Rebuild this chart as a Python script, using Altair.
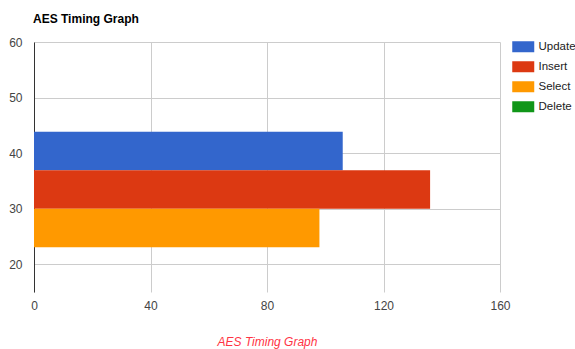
import altair as alt
import pandas as pd

series = ["Update", "Insert", "Select", "Delete"]
times = [106, 136, 98, 0]
colors = ["#3366cc", "#dc3912", "#ff9900", "#109618"]
category_value = 30
group_width = 27.7
x_ticks = [0, 40, 80, 120, 160]
y_ticks = [20, 30, 40, 50, 60]

bar_h = group_width / len(series)
top = category_value + group_width / 2
df = pd.DataFrame({
    "series": series,
    "time": times,
    "y_top": [top - i * bar_h for i in range(len(series))],
})
df["y_bot"] = df["y_top"] - bar_h

FONT = "Liberation Sans"

chart = alt.Chart(df).mark_rect().encode(
    x=alt.X("time:Q",
            scale=alt.Scale(domain=[0, 160], nice=False),
            axis=alt.Axis(values=x_ticks, title="AES Timing Graph", grid=True,
                          gridColor="#cccccc", domain=False, ticks=False,
                          labelColor="#444444", labelFontSize=12, labelFont=FONT,
                          labelPadding=8, labelFlush=False, titleFont=FONT, titleFontSize=12,
                          titleFontStyle="italic", titleFontWeight="normal",
                          titleColor="#ff3344", titlePadding=25)),
    x2=alt.datum(0),
    y=alt.Y("y_top:Q",
            scale=alt.Scale(domain=[15, 60], nice=False, zero=False),
            axis=alt.Axis(values=y_ticks, title=None, grid=True, gridColor="#cccccc",
                          domain=True, domainColor="#333333", ticks=False,
                          labelColor="#444444", labelFontSize=12, labelFont=FONT,
                          labelPadding=12, labelFlush=False)),
    y2="y_bot:Q",
    color=alt.Color("series:N",
                    scale=alt.Scale(domain=series, range=colors),
                    legend=alt.Legend(title=None, orient="none", legendX=483.5, legendY=-1,
                                      symbolType="M-2,-1H2V1H-2Z", symbolSize=121,
                                      symbolStrokeWidth=0, symbolOpacity=1,
                                      labelFont=FONT, labelFontSize=11.5, labelColor="#222222",
                                      labelOffset=9.5, rowPadding=7, padding=0)),
).properties(
    width=466,
    height=250,
    title=alt.TitleParams("AES Timing Graph", anchor="start", frame="group", font=FONT,
                          fontSize=12, fontWeight="bold", color="#000000", offset=1,
                          baseline="alphabetic", dx=-1),
    autosize=alt.AutoSizeParams(type="none"),
    padding={"left": 34, "top": 42, "right": 75, "bottom": 57},
).configure_view(strokeWidth=0)

chart.save("out.html", embed_options={"renderer": "svg", "actions": False})
